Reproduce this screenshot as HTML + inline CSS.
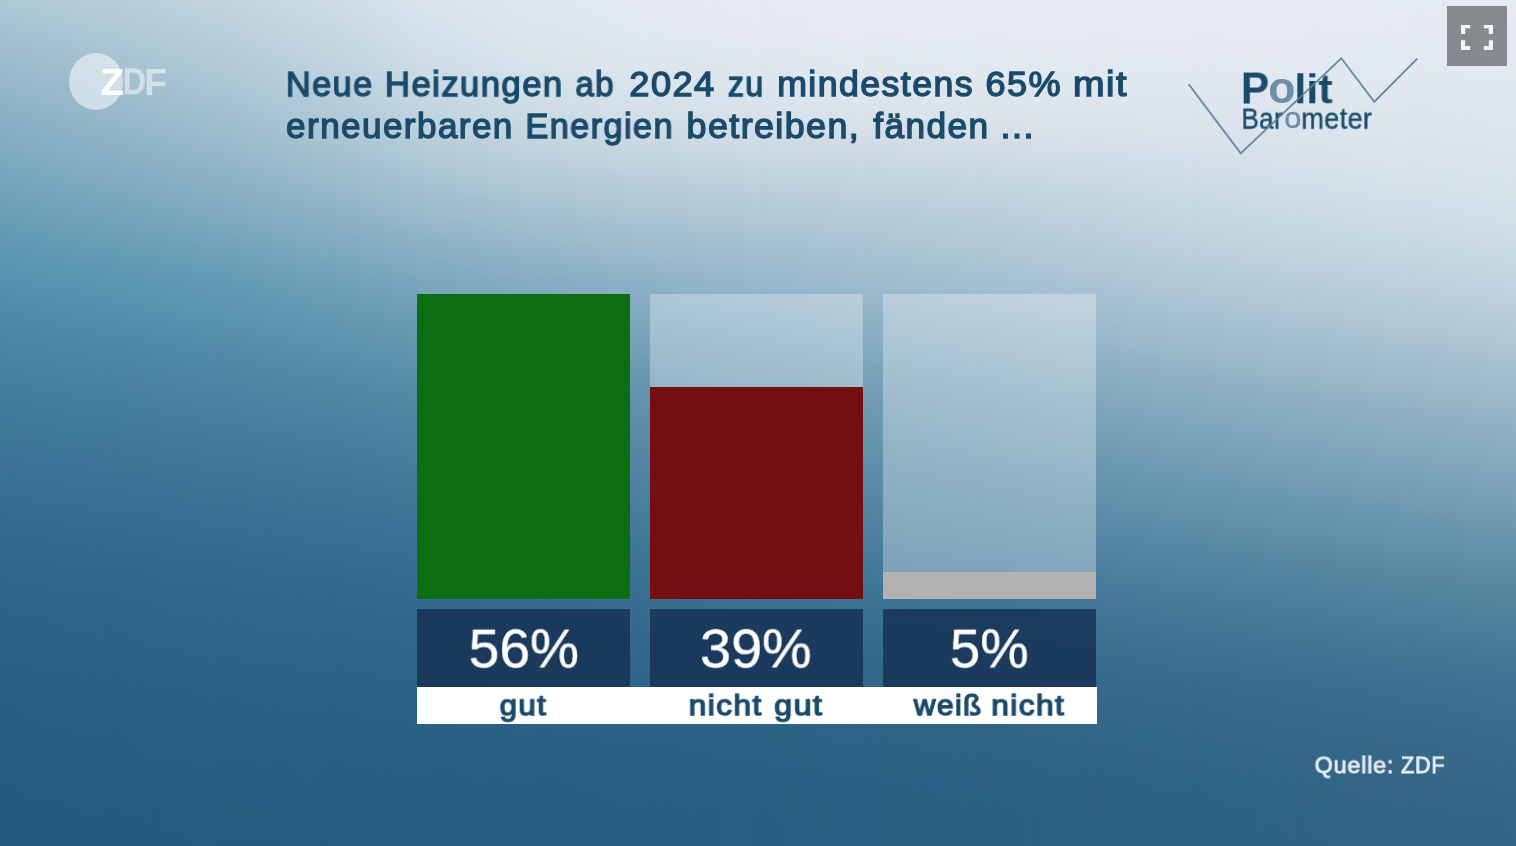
<!DOCTYPE html>
<html lang="de">
<head>
<meta charset="utf-8">
<title>Politbarometer – Neue Heizungen ab 2024</title>
<style>
html,body{margin:0;padding:0;}
body{width:1516px;height:846px;overflow:hidden;background:#2a5b82;font-family:"Liberation Sans",sans-serif;}
#stage{position:relative;width:1516px;height:846px;overflow:hidden;}
.bgl{position:absolute;top:0;height:846px;}
.abs{position:absolute;}
#fg{position:absolute;left:0;top:0;width:1516px;height:846px;}
h1,p{margin:0;padding:0;font-size:inherit;font-weight:inherit;}
.w{position:absolute;display:block;white-space:nowrap;line-height:1;font-weight:bold;color:#1b4b6b;will-change:transform;}
.v{font-weight:normal;color:#fff;}
.t{font-weight:normal;}
.s{color:#e9edf7;}
.bar{position:absolute;width:213px;}
.track{background:rgba(255,255,255,0.31);top:294px;height:305px;}
.val{position:absolute;top:608.5px;height:78.5px;width:213px;background:rgba(22,51,85,0.85);}
#labels{position:absolute;left:417px;top:687px;width:679.5px;height:36.5px;background:#fff;}
#fs{position:absolute;left:1447px;top:6px;width:60px;height:60px;background:rgba(0,0,0,0.41);}
#fs svg{display:block;}
#zdfc{position:absolute;left:68.5px;top:53.4px;width:54.9px;height:56.8px;border-radius:50%;background:rgba(255,255,255,0.52);}
.z{color:#fff;}
.zl{color:rgba(255,255,255,0.52);}
.lo{color:#6c8ea6;}
.r{font-weight:normal;}
</style>
</head>
<body>
<div id="stage">
<div class="bgl" style="left:0;width:1516px;background:linear-gradient(to bottom,rgb(174,200,213) 0.0px,rgb(165,194,209) 31.3px,rgb(156,187,204) 62.7px,rgb(146,181,200) 94.0px,rgb(136,175,195) 125.3px,rgb(125,170,191) 156.7px,rgb(115,164,187) 188.0px,rgb(105,158,182) 219.3px,rgb(94,152,178) 250.7px,rgb(84,146,174) 282.0px,rgb(78,139,169) 313.3px,rgb(73,134,165) 344.7px,rgb(69,128,160) 376.0px,rgb(65,123,156) 407.3px,rgb(62,119,152) 438.7px,rgb(58,115,149) 470.0px,rgb(55,111,146) 501.3px,rgb(51,107,143) 532.7px,rgb(48,104,140) 564.0px,rgb(45,101,137) 595.3px,rgb(43,99,135) 626.7px,rgb(42,97,133) 658.0px,rgb(40,95,131) 689.3px,rgb(39,94,130) 720.7px,rgb(38,93,129) 752.0px,rgb(37,92,128) 783.3px,rgb(37,91,127) 814.7px,rgb(36,91,126) 846.0px)"></div>
<div class="bgl" style="left:0.00px;width:1516.00px;background:linear-gradient(to bottom,rgb(183,206,217) 0.0px,rgb(174,200,213) 31.3px,rgb(165,194,209) 62.7px,rgb(156,188,204) 94.0px,rgb(146,182,200) 125.3px,rgb(136,176,195) 156.7px,rgb(125,169,190) 188.0px,rgb(114,163,185) 219.3px,rgb(102,157,181) 250.7px,rgb(90,150,176) 282.0px,rgb(83,144,172) 313.3px,rgb(77,137,166) 344.7px,rgb(73,131,161) 376.0px,rgb(68,126,157) 407.3px,rgb(64,121,153) 438.7px,rgb(60,116,150) 470.0px,rgb(57,112,147) 501.3px,rgb(53,108,144) 532.7px,rgb(49,105,141) 564.0px,rgb(46,102,138) 595.3px,rgb(44,100,136) 626.7px,rgb(43,98,134) 658.0px,rgb(41,96,132) 689.3px,rgb(40,95,131) 720.7px,rgb(39,94,129) 752.0px,rgb(38,93,128) 783.3px,rgb(37,92,127) 814.7px,rgb(36,91,126) 846.0px);-webkit-mask-image:linear-gradient(to right,transparent 0px,#000 108.29px);mask-image:linear-gradient(to right,transparent 0px,#000 108.29px)"></div>
<div class="bgl" style="left:108.29px;width:1407.71px;background:linear-gradient(to bottom,rgb(193,212,221) 0.0px,rgb(185,207,218) 31.3px,rgb(177,201,214) 62.7px,rgb(168,196,210) 94.0px,rgb(158,189,205) 125.3px,rgb(148,182,200) 156.7px,rgb(137,176,194) 188.0px,rgb(125,169,189) 219.3px,rgb(111,162,185) 250.7px,rgb(99,155,180) 282.0px,rgb(90,149,175) 313.3px,rgb(83,141,169) 344.7px,rgb(78,135,163) 376.0px,rgb(72,129,158) 407.3px,rgb(68,123,155) 438.7px,rgb(63,119,152) 470.0px,rgb(59,114,148) 501.3px,rgb(55,110,145) 532.7px,rgb(51,106,142) 564.0px,rgb(48,103,139) 595.3px,rgb(46,101,137) 626.7px,rgb(44,99,134) 658.0px,rgb(42,97,132) 689.3px,rgb(41,96,131) 720.7px,rgb(40,95,130) 752.0px,rgb(39,94,128) 783.3px,rgb(38,93,127) 814.7px,rgb(37,92,127) 846.0px);-webkit-mask-image:linear-gradient(to right,transparent 0px,#000 108.29px);mask-image:linear-gradient(to right,transparent 0px,#000 108.29px)"></div>
<div class="bgl" style="left:216.57px;width:1299.43px;background:linear-gradient(to bottom,rgb(205,220,228) 0.0px,rgb(198,215,225) 31.3px,rgb(191,211,222) 62.7px,rgb(182,205,218) 94.0px,rgb(173,199,213) 125.3px,rgb(162,192,207) 156.7px,rgb(150,184,201) 188.0px,rgb(138,176,195) 219.3px,rgb(124,169,189) 250.7px,rgb(110,161,184) 282.0px,rgb(100,154,178) 313.3px,rgb(91,146,172) 344.7px,rgb(83,139,166) 376.0px,rgb(77,132,161) 407.3px,rgb(71,126,157) 438.7px,rgb(66,121,153) 470.0px,rgb(62,116,150) 501.3px,rgb(57,112,147) 532.7px,rgb(53,108,143) 564.0px,rgb(50,104,140) 595.3px,rgb(47,102,137) 626.7px,rgb(45,100,135) 658.0px,rgb(43,98,133) 689.3px,rgb(42,96,131) 720.7px,rgb(40,95,130) 752.0px,rgb(39,94,129) 783.3px,rgb(38,93,128) 814.7px,rgb(37,92,127) 846.0px);-webkit-mask-image:linear-gradient(to right,transparent 0px,#000 108.29px);mask-image:linear-gradient(to right,transparent 0px,#000 108.29px)"></div>
<div class="bgl" style="left:324.86px;width:1191.14px;background:linear-gradient(to bottom,rgb(218,228,236) 0.0px,rgb(213,225,234) 31.3px,rgb(207,221,231) 62.7px,rgb(199,216,227) 94.0px,rgb(190,210,222) 125.3px,rgb(178,202,215) 156.7px,rgb(166,194,208) 188.0px,rgb(153,185,202) 219.3px,rgb(138,176,195) 250.7px,rgb(124,167,189) 282.0px,rgb(112,159,182) 313.3px,rgb(101,151,176) 344.7px,rgb(91,143,170) 376.0px,rgb(82,136,164) 407.3px,rgb(76,130,160) 438.7px,rgb(70,124,156) 470.0px,rgb(65,119,152) 501.3px,rgb(60,114,149) 532.7px,rgb(56,110,145) 564.0px,rgb(52,106,142) 595.3px,rgb(49,103,138) 626.7px,rgb(46,100,136) 658.0px,rgb(44,98,133) 689.3px,rgb(42,97,132) 720.7px,rgb(41,95,130) 752.0px,rgb(39,94,129) 783.3px,rgb(38,93,128) 814.7px,rgb(38,93,128) 846.0px);-webkit-mask-image:linear-gradient(to right,transparent 0px,#000 108.29px);mask-image:linear-gradient(to right,transparent 0px,#000 108.29px)"></div>
<div class="bgl" style="left:433.14px;width:1082.86px;background:linear-gradient(to bottom,rgb(225,232,240) 0.0px,rgb(221,230,238) 31.3px,rgb(216,227,235) 62.7px,rgb(209,223,232) 94.0px,rgb(201,217,227) 125.3px,rgb(189,209,220) 156.7px,rgb(176,200,213) 188.0px,rgb(163,192,207) 219.3px,rgb(149,182,200) 250.7px,rgb(135,173,194) 282.0px,rgb(122,164,187) 313.3px,rgb(110,156,180) 344.7px,rgb(98,148,174) 376.0px,rgb(89,140,168) 407.3px,rgb(81,134,163) 438.7px,rgb(75,128,159) 470.0px,rgb(69,122,155) 501.3px,rgb(64,117,151) 532.7px,rgb(59,112,147) 564.0px,rgb(54,108,143) 595.3px,rgb(51,105,140) 626.7px,rgb(48,101,136) 658.0px,rgb(45,99,134) 689.3px,rgb(43,97,132) 720.7px,rgb(41,96,131) 752.0px,rgb(40,94,129) 783.3px,rgb(39,93,128) 814.7px,rgb(38,93,128) 846.0px);-webkit-mask-image:linear-gradient(to right,transparent 0px,#000 108.29px);mask-image:linear-gradient(to right,transparent 0px,#000 108.29px)"></div>
<div class="bgl" style="left:541.43px;width:974.57px;background:linear-gradient(to bottom,rgb(228,234,240) 0.0px,rgb(226,233,239) 31.3px,rgb(221,230,237) 62.7px,rgb(216,226,234) 94.0px,rgb(208,221,230) 125.3px,rgb(196,213,223) 156.7px,rgb(183,204,216) 188.0px,rgb(170,196,210) 219.3px,rgb(157,187,204) 250.7px,rgb(143,178,198) 282.0px,rgb(130,170,192) 313.3px,rgb(118,161,185) 344.7px,rgb(106,153,178) 376.0px,rgb(96,145,172) 407.3px,rgb(88,139,167) 438.7px,rgb(81,132,162) 470.0px,rgb(75,127,158) 501.3px,rgb(68,121,153) 532.7px,rgb(62,115,149) 564.0px,rgb(57,111,145) 595.3px,rgb(53,106,141) 626.7px,rgb(49,103,138) 658.0px,rgb(46,100,135) 689.3px,rgb(44,98,133) 720.7px,rgb(42,96,131) 752.0px,rgb(41,95,130) 783.3px,rgb(40,94,129) 814.7px,rgb(39,94,129) 846.0px);-webkit-mask-image:linear-gradient(to right,transparent 0px,#000 108.29px);mask-image:linear-gradient(to right,transparent 0px,#000 108.29px)"></div>
<div class="bgl" style="left:649.71px;width:866.29px;background:linear-gradient(to bottom,rgb(229,235,241) 0.0px,rgb(228,234,240) 31.3px,rgb(224,231,238) 62.7px,rgb(219,228,236) 94.0px,rgb(212,223,232) 125.3px,rgb(201,216,225) 156.7px,rgb(188,207,218) 188.0px,rgb(176,199,213) 219.3px,rgb(163,191,208) 250.7px,rgb(151,183,203) 282.0px,rgb(138,175,197) 313.3px,rgb(126,166,189) 344.7px,rgb(114,158,182) 376.0px,rgb(103,151,176) 407.3px,rgb(95,144,171) 438.7px,rgb(87,137,166) 470.0px,rgb(80,131,161) 501.3px,rgb(73,125,156) 532.7px,rgb(66,118,151) 564.0px,rgb(60,113,147) 595.3px,rgb(55,108,143) 626.7px,rgb(51,104,139) 658.0px,rgb(48,101,136) 689.3px,rgb(46,99,134) 720.7px,rgb(44,97,132) 752.0px,rgb(42,95,130) 783.3px,rgb(41,94,129) 814.7px,rgb(40,94,129) 846.0px);-webkit-mask-image:linear-gradient(to right,transparent 0px,#000 108.29px);mask-image:linear-gradient(to right,transparent 0px,#000 108.29px)"></div>
<div class="bgl" style="left:758.00px;width:758.00px;background:linear-gradient(to bottom,rgb(230,236,242) 0.0px,rgb(229,235,241) 31.3px,rgb(225,232,239) 62.7px,rgb(221,229,237) 94.0px,rgb(215,224,233) 125.3px,rgb(203,217,227) 156.7px,rgb(191,210,220) 188.0px,rgb(180,202,215) 219.3px,rgb(169,195,210) 250.7px,rgb(158,188,205) 282.0px,rgb(146,180,200) 313.3px,rgb(133,172,193) 344.7px,rgb(121,163,186) 376.0px,rgb(111,155,179) 407.3px,rgb(101,149,174) 438.7px,rgb(93,142,169) 470.0px,rgb(85,135,164) 501.3px,rgb(77,128,159) 532.7px,rgb(69,122,153) 564.0px,rgb(63,115,149) 595.3px,rgb(58,110,144) 626.7px,rgb(53,106,140) 658.0px,rgb(50,102,137) 689.3px,rgb(47,100,135) 720.7px,rgb(45,98,133) 752.0px,rgb(43,96,131) 783.3px,rgb(42,95,130) 814.7px,rgb(41,95,129) 846.0px);-webkit-mask-image:linear-gradient(to right,transparent 0px,#000 108.29px);mask-image:linear-gradient(to right,transparent 0px,#000 108.29px)"></div>
<div class="bgl" style="left:866.29px;width:649.71px;background:linear-gradient(to bottom,rgb(230,236,242) 0.0px,rgb(229,235,241) 31.3px,rgb(226,233,240) 62.7px,rgb(223,229,237) 94.0px,rgb(216,225,234) 125.3px,rgb(206,219,228) 156.7px,rgb(194,212,222) 188.0px,rgb(184,205,217) 219.3px,rgb(174,199,212) 250.7px,rgb(164,192,208) 282.0px,rgb(154,185,203) 313.3px,rgb(141,176,196) 344.7px,rgb(129,168,189) 376.0px,rgb(118,160,183) 407.3px,rgb(108,153,177) 438.7px,rgb(99,146,172) 470.0px,rgb(90,140,167) 501.3px,rgb(82,132,161) 532.7px,rgb(73,125,156) 564.0px,rgb(66,118,150) 595.3px,rgb(60,113,146) 626.7px,rgb(55,107,141) 658.0px,rgb(52,104,138) 689.3px,rgb(49,101,135) 720.7px,rgb(47,99,133) 752.0px,rgb(45,97,132) 783.3px,rgb(43,96,130) 814.7px,rgb(43,96,130) 846.0px);-webkit-mask-image:linear-gradient(to right,transparent 0px,#000 108.29px);mask-image:linear-gradient(to right,transparent 0px,#000 108.29px)"></div>
<div class="bgl" style="left:974.57px;width:541.43px;background:linear-gradient(to bottom,rgb(230,236,242) 0.0px,rgb(229,235,241) 31.3px,rgb(227,233,240) 62.7px,rgb(223,230,238) 94.0px,rgb(218,226,235) 125.3px,rgb(209,221,230) 156.7px,rgb(199,215,224) 188.0px,rgb(190,209,220) 219.3px,rgb(181,203,216) 250.7px,rgb(171,196,211) 282.0px,rgb(161,189,206) 313.3px,rgb(149,181,199) 344.7px,rgb(137,173,192) 376.0px,rgb(126,165,186) 407.3px,rgb(115,158,181) 438.7px,rgb(105,151,176) 470.0px,rgb(96,144,170) 501.3px,rgb(86,136,164) 532.7px,rgb(77,128,158) 564.0px,rgb(70,121,152) 595.3px,rgb(63,115,147) 626.7px,rgb(58,109,142) 658.0px,rgb(54,105,139) 689.3px,rgb(51,103,136) 720.7px,rgb(48,100,134) 752.0px,rgb(46,98,132) 783.3px,rgb(45,97,131) 814.7px,rgb(44,97,130) 846.0px);-webkit-mask-image:linear-gradient(to right,transparent 0px,#000 108.29px);mask-image:linear-gradient(to right,transparent 0px,#000 108.29px)"></div>
<div class="bgl" style="left:1082.86px;width:433.14px;background:linear-gradient(to bottom,rgb(230,236,242) 0.0px,rgb(229,235,241) 31.3px,rgb(227,233,240) 62.7px,rgb(223,230,238) 94.0px,rgb(219,227,236) 125.3px,rgb(212,223,232) 156.7px,rgb(204,219,228) 188.0px,rgb(196,214,224) 219.3px,rgb(188,208,219) 250.7px,rgb(178,201,214) 282.0px,rgb(168,194,209) 313.3px,rgb(157,186,202) 344.7px,rgb(145,178,195) 376.0px,rgb(133,170,189) 407.3px,rgb(122,163,184) 438.7px,rgb(112,156,179) 470.0px,rgb(101,148,173) 501.3px,rgb(92,140,166) 532.7px,rgb(82,132,159) 564.0px,rgb(74,124,153) 595.3px,rgb(67,118,148) 626.7px,rgb(61,112,144) 658.0px,rgb(56,107,140) 689.3px,rgb(53,104,138) 720.7px,rgb(50,102,135) 752.0px,rgb(47,99,133) 783.3px,rgb(46,98,132) 814.7px,rgb(45,98,131) 846.0px);-webkit-mask-image:linear-gradient(to right,transparent 0px,#000 108.29px);mask-image:linear-gradient(to right,transparent 0px,#000 108.29px)"></div>
<div class="bgl" style="left:1191.14px;width:324.86px;background:linear-gradient(to bottom,rgb(230,236,242) 0.0px,rgb(229,235,241) 31.3px,rgb(227,233,240) 62.7px,rgb(224,231,239) 94.0px,rgb(220,228,237) 125.3px,rgb(215,225,234) 156.7px,rgb(208,222,230) 188.0px,rgb(201,217,227) 219.3px,rgb(193,212,222) 250.7px,rgb(184,205,217) 282.0px,rgb(174,198,212) 313.3px,rgb(163,190,205) 344.7px,rgb(152,182,198) 376.0px,rgb(140,174,192) 407.3px,rgb(129,167,187) 438.7px,rgb(118,160,182) 470.0px,rgb(107,152,176) 501.3px,rgb(97,144,169) 532.7px,rgb(87,135,161) 564.0px,rgb(78,127,155) 595.3px,rgb(70,121,150) 626.7px,rgb(64,114,145) 658.0px,rgb(58,109,142) 689.3px,rgb(55,106,139) 720.7px,rgb(52,103,136) 752.0px,rgb(49,101,134) 783.3px,rgb(47,99,132) 814.7px,rgb(47,98,131) 846.0px);-webkit-mask-image:linear-gradient(to right,transparent 0px,#000 108.29px);mask-image:linear-gradient(to right,transparent 0px,#000 108.29px)"></div>
<div class="bgl" style="left:1299.43px;width:216.57px;background:linear-gradient(to bottom,rgb(229,236,242) 0.0px,rgb(228,234,241) 31.3px,rgb(226,233,240) 62.7px,rgb(224,231,239) 94.0px,rgb(221,229,237) 125.3px,rgb(217,227,235) 156.7px,rgb(212,224,232) 188.0px,rgb(206,220,229) 219.3px,rgb(198,215,225) 250.7px,rgb(189,208,220) 282.0px,rgb(180,202,215) 313.3px,rgb(169,194,208) 344.7px,rgb(158,186,202) 376.0px,rgb(147,178,195) 407.3px,rgb(136,171,190) 438.7px,rgb(124,164,184) 470.0px,rgb(113,156,178) 501.3px,rgb(102,148,171) 532.7px,rgb(92,139,163) 564.0px,rgb(82,131,157) 595.3px,rgb(74,124,151) 626.7px,rgb(67,117,147) 658.0px,rgb(61,111,143) 689.3px,rgb(57,108,140) 720.7px,rgb(54,104,137) 752.0px,rgb(51,102,135) 783.3px,rgb(49,100,133) 814.7px,rgb(48,99,131) 846.0px);-webkit-mask-image:linear-gradient(to right,transparent 0px,#000 108.29px);mask-image:linear-gradient(to right,transparent 0px,#000 108.29px)"></div>
<div class="bgl" style="left:1407.71px;width:108.29px;background:linear-gradient(to bottom,rgb(228,235,241) 0.0px,rgb(227,234,241) 31.3px,rgb(226,233,240) 62.7px,rgb(224,231,239) 94.0px,rgb(222,230,238) 125.3px,rgb(218,228,236) 156.7px,rgb(214,226,234) 188.0px,rgb(209,223,231) 219.3px,rgb(202,218,227) 250.7px,rgb(194,212,223) 282.0px,rgb(185,205,218) 313.3px,rgb(175,198,212) 344.7px,rgb(164,190,205) 376.0px,rgb(152,182,199) 407.3px,rgb(142,175,193) 438.7px,rgb(131,167,187) 470.0px,rgb(120,160,181) 501.3px,rgb(108,151,173) 532.7px,rgb(96,142,166) 564.0px,rgb(86,134,159) 595.3px,rgb(78,127,154) 626.7px,rgb(70,119,149) 658.0px,rgb(65,113,145) 689.3px,rgb(60,110,142) 720.7px,rgb(57,106,139) 752.0px,rgb(53,103,136) 783.3px,rgb(51,101,133) 814.7px,rgb(50,100,131) 846.0px);-webkit-mask-image:linear-gradient(to right,transparent 0px,#000 108.29px);mask-image:linear-gradient(to right,transparent 0px,#000 108.29px)"></div>
<div id="fg">
<div id="zdf"><div id="zdfc"></div><span class="w z" style="left:100px;top:65px;font-size:34px;transform:translate(0.19px,0.60px) scale(1.1498,1.0750);transform-origin:0 29px;">Z</span><span class="w z zl" style="left:122px;top:65px;font-size:34px;transform:translate(0.55px,0.60px) scale(0.9647,1.0750);transform-origin:0 29px;">D</span><span class="w z zl" style="left:144px;top:65px;font-size:34px;transform:translate(0.26px,0.60px) scale(1.1009,1.0750);transform-origin:0 29px;">F</span></div>
<h1 id="title">
<span class="w t" style="left:285px;top:66px;font-size:35px;transform:translate(0.90px,0.10px) scale(0.9810,1.0000);transform-origin:0 30px;letter-spacing:1.4px;-webkit-text-stroke:1.4px currentColor;">Neue</span> <span class="w t" style="left:384px;top:66px;font-size:35px;transform:translate(0.88px,0.10px) scale(0.9935,1.0000);transform-origin:0 30px;letter-spacing:1.4px;-webkit-text-stroke:1.4px currentColor;">Heizungen</span> <span class="w t" style="left:575px;top:66px;font-size:35px;transform:translate(0.43px,0.10px) scale(0.9485,1.0000);transform-origin:0 30px;letter-spacing:1.4px;-webkit-text-stroke:1.4px currentColor;">ab</span> <span class="w t" style="left:629px;top:66px;font-size:35px;transform:translate(0.33px,0.10px) scale(1.0340,1.0000);transform-origin:0 30px;letter-spacing:1.4px;-webkit-text-stroke:1.4px currentColor;">2024</span> <span class="w t" style="left:727px;top:66px;font-size:35px;transform:translate(0.84px,0.10px) scale(0.9181,1.0000);transform-origin:0 30px;letter-spacing:1.4px;-webkit-text-stroke:1.4px currentColor;">zu</span> <span class="w t" style="left:777px;top:66px;font-size:35px;transform:translate(0.18px,0.10px) scale(1.0200,1.0000);transform-origin:0 30px;letter-spacing:1.4px;-webkit-text-stroke:1.4px currentColor;">mindestens</span> <span class="w t" style="left:985px;top:66px;font-size:35px;transform:translate(0.43px,0.10px) scale(1.0298,1.0000);transform-origin:0 30px;letter-spacing:1.4px;-webkit-text-stroke:1.4px currentColor;">65%</span> <span class="w t" style="left:1072px;top:66px;font-size:35px;transform:translate(0.89px,0.10px) scale(1.0843,1.0000);transform-origin:0 30px;letter-spacing:1.4px;-webkit-text-stroke:1.4px currentColor;">mit</span><br>
<span class="w t" style="left:286px;top:108px;font-size:35px;transform:translate(0.11px,0.00px) scale(1.0032,1.0000);transform-origin:0 30px;letter-spacing:1.4px;-webkit-text-stroke:1.4px currentColor;">erneuerbaren</span> <span class="w t" style="left:525px;top:108px;font-size:35px;transform:translate(0.40px,0.00px) scale(0.9816,1.0000);transform-origin:0 30px;letter-spacing:1.4px;-webkit-text-stroke:1.4px currentColor;">Energien</span> <span class="w t" style="left:686px;top:108px;font-size:35px;transform:translate(0.58px,0.00px) scale(1.0232,1.0000);transform-origin:0 30px;letter-spacing:1.4px;-webkit-text-stroke:1.4px currentColor;">betreiben,</span> <span class="w t" style="left:873px;top:108px;font-size:35px;transform:translate(0.30px,0.00px) scale(1.0063,1.0000);transform-origin:0 30px;letter-spacing:1.4px;-webkit-text-stroke:1.4px currentColor;">fänden</span> <span class="w t" style="left:1000px;top:108px;font-size:35px;transform:translate(0.50px,0.00px) scale(1.0300,1.0000);transform-origin:0 30px;letter-spacing:1.4px;-webkit-text-stroke:1.4px currentColor;">...</span>
</h1>
<div id="pb"><span class="w" style="left:1240px;top:67px;font-size:43px;transform:translate(0.85px,0.30px) scale(0.9855,1.0200);transform-origin:0 36px;">P</span><span class="w lo" style="left:1268px;top:67px;font-size:43px;transform:translate(0.21px,0.30px) scale(1.0334,1.0200);transform-origin:0 36px;">o</span><span class="w" style="left:1294px;top:67px;font-size:43px;transform:translate(0.29px,0.30px) scale(1.0081,0.9700);transform-origin:0 36px;">lit</span><br><span class="w r" style="left:1241px;top:105px;font-size:28px;transform:translate(0.35px,0.39px) scale(0.9329,1.0700);transform-origin:0 23px;letter-spacing:0.4px;-webkit-text-stroke:0.4px currentColor;">Bar</span><span class="w r lo" style="left:1284px;top:105px;font-size:28px;transform:translate(0.16px,0.39px) scale(1.0958,1.0700);transform-origin:0 23px;letter-spacing:0.4px;-webkit-text-stroke:0.4px currentColor;">o</span><span class="w r" style="left:1301px;top:105px;font-size:28px;transform:translate(0.30px,0.39px) scale(0.9653,1.0700);transform-origin:0 23px;letter-spacing:0.4px;-webkit-text-stroke:0.4px currentColor;">meter</span>
<svg class="abs" style="left:1170px;top:40px" width="270" height="130" viewBox="1170 40 270 130">
  <polyline points="1188.7,84.2 1240.7,153.4 1341.3,58.3 1374.3,101.8 1417.2,58.7" fill="none" stroke="#5a7f9a" stroke-opacity="0.9" stroke-width="1.9"/>
</svg></div>
<div class="bar track" style="left:417px;"></div>
<div class="bar track" style="left:650px;"></div>
<div class="bar track" style="left:883px;"></div>
<div class="bar" style="left:417px;top:294px;height:305px;background:#0c6e10;"></div>
<div class="bar" style="left:650px;top:387px;height:212px;background:#730e13;"></div>
<div class="bar" style="left:883px;top:572px;height:27px;background:#b2b2b2;"></div>
<div class="val" style="left:417px;"></div>
<div class="val" style="left:650px;"></div>
<div class="val" style="left:883px;"></div>
<span class="w v" style="left:468px;top:620px;font-size:56px;transform:translate(0.68px,0.20px) scale(0.9838,0.9830);transform-origin:0 47px;-webkit-text-stroke:0.4px currentColor;">56%</span>
<span class="w v" style="left:699px;top:620px;font-size:56px;transform:translate(0.96px,0.20px) scale(0.9967,0.9830);transform-origin:0 47px;-webkit-text-stroke:0.4px currentColor;">39%</span>
<span class="w v" style="left:949px;top:620px;font-size:56px;transform:translate(0.89px,0.20px) scale(0.9715,0.9830);transform-origin:0 47px;-webkit-text-stroke:0.4px currentColor;">5%</span>
<div id="labels"></div>
<div class="labw"><span class="w t" style="left:499px;top:689px;font-size:31px;transform:translate(0.68px,0.12px) scale(1.0015,0.9130);transform-origin:0 26px;letter-spacing:1.5px;-webkit-text-stroke:1.5px currentColor;">gut</span></div>
<div class="labw"><span class="w t" style="left:688px;top:689px;font-size:31px;transform:translate(0.69px,0.12px) scale(1.0148,0.9130);transform-origin:0 26px;letter-spacing:1.5px;-webkit-text-stroke:1.5px currentColor;">nicht</span> <span class="w t" style="left:774px;top:689px;font-size:31px;transform:translate(0.17px,0.12px) scale(1.0357,0.9130);transform-origin:0 26px;letter-spacing:1.5px;-webkit-text-stroke:1.5px currentColor;">gut</span></div>
<div class="labw"><span class="w t" style="left:913px;top:689px;font-size:31px;transform:translate(0.79px,0.12px) scale(0.9644,0.9130);transform-origin:0 26px;letter-spacing:1.5px;-webkit-text-stroke:1.5px currentColor;">weiß</span> <span class="w t" style="left:991px;top:689px;font-size:31px;transform:translate(0.29px,0.12px) scale(1.0148,0.9130);transform-origin:0 26px;letter-spacing:1.5px;-webkit-text-stroke:1.5px currentColor;">nicht</span></div>
<p id="src"><span class="w t s" style="left:1314px;top:753px;font-size:23px;transform:translate(0.67px,0.97px) scale(1.0063,0.9500);transform-origin:0 19px;letter-spacing:0.9px;-webkit-text-stroke:0.9px currentColor;">Quelle:</span> <span class="w t s" style="left:1401px;top:753px;font-size:23px;transform:translate(0.05px,0.97px) scale(0.9317,0.9500);transform-origin:0 19px;letter-spacing:0.9px;-webkit-text-stroke:0.9px currentColor;">ZDF</span></p>
<div id="fs">
  <svg width="60" height="60" viewBox="1447 6 60 60">
    <g fill="#f4f5f7">
      <path d="M1461 25h9.2v3.3h-5v5.8h-4.2z"/>
      <path d="M1493 25h-9.2v3.3h5v5.8h4.2z"/>
      <path d="M1461 50h9.2v-4h-5v-5.7h-4.2z"/>
      <path d="M1493 50h-9.2v-4h5v-5.7h4.2z"/>
    </g>
  </svg>
</div>
</div>
</div>
</body>
</html>
